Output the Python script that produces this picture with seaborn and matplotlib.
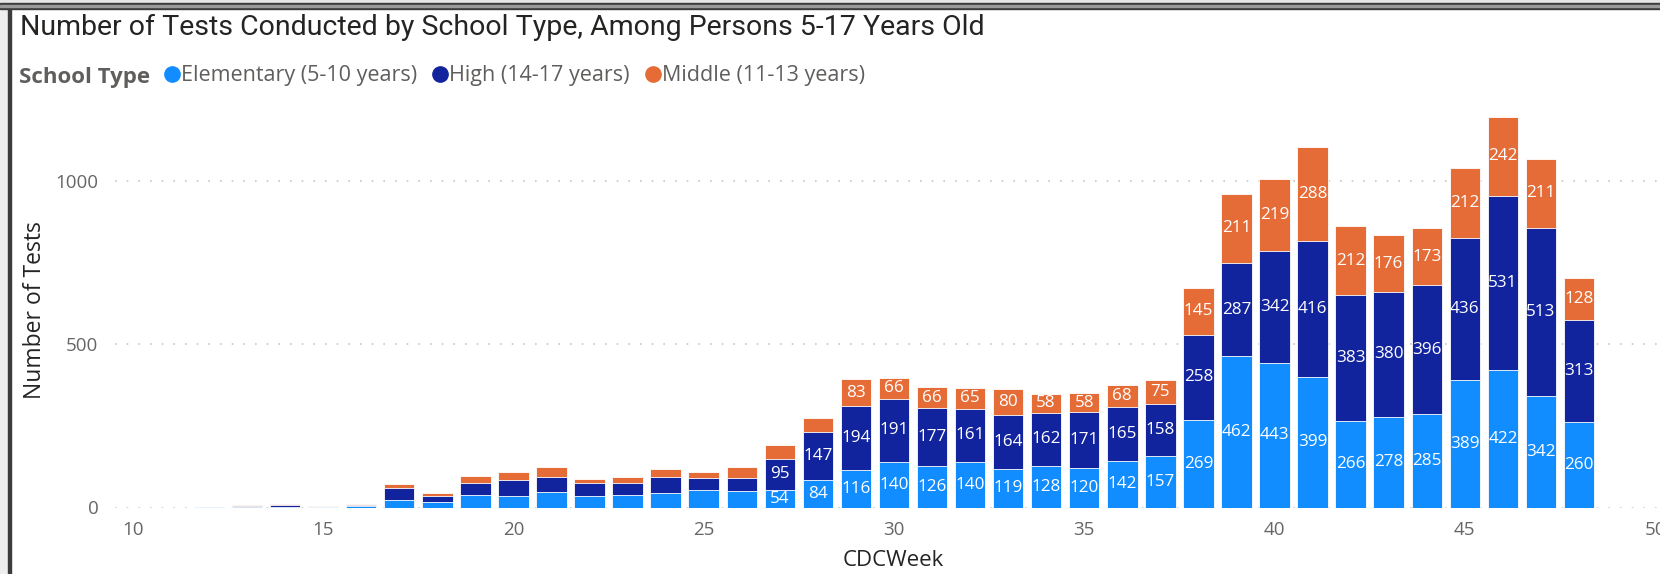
import matplotlib
matplotlib.use("Agg")
import matplotlib.pyplot as plt
from matplotlib.lines import Line2D
from matplotlib.patches import Rectangle
import numpy as np
import seaborn as sns

# CDC weeks and tests per school type
weeks = list(range(12, 49))
elementary = [1, 3, 3, 1, 4, 24, 18, 37, 34, 48, 36, 39, 44, 52, 50, 54, 84,
              116, 140, 126, 140, 119, 128, 120, 142, 157, 269, 462, 443, 399,
              266, 278, 285, 389, 422, 342, 260]
high = [1, 2, 6, 0, 5, 35, 17, 39, 49, 46, 40, 37, 48, 37, 39, 95, 147,
        194, 191, 177, 161, 164, 162, 171, 165, 158, 258, 287, 342, 416,
        383, 380, 396, 436, 531, 513, 313]
middle = [1, 3, 3, 3, 2, 14, 10, 19, 27, 31, 10, 17, 25, 20, 35, 43, 42,
          83, 66, 66, 65, 80, 58, 58, 68, 75, 145, 211, 219, 288,
          212, 176, 173, 212, 242, 211, 128]

series_names = ["Elementary (5-10 years)", "High (14-17 years)", "Middle (11-13 years)"]
series_colors = ["#118DFF", "#12239E", "#E66C37"]
yticks = [0, 500, 1000]
xticks = [10, 15, 20, 25, 30, 35, 40, 45, 50]

elem = np.array(elementary)
hi = np.array(high)
mid = np.array(middle)

W, H = 1660, 574
fig = plt.figure(figsize=(W / 100, H / 100), dpi=100)
fig.patch.set_facecolor("white")
plt.rcParams["font.family"] = ["Open Sans", "DejaVu Sans"]

ax = fig.add_axes([115 / W, (H - 507.5) / H, (W - 115) / W, 1250 * 0.327 / H])

# stacked bars: draw cumulative totals back to front
tops = [elem, elem + hi, elem + hi + mid]
for i in [2, 1, 0]:
    sns.barplot(x=weeks, y=tops[i], native_scale=True, width=0.8,
                color=series_colors[i], saturation=1, errorbar=None,
                edgecolor="white", linewidth=0.6, ax=ax)

# data labels centred in segments
lows = [np.zeros_like(elem), elem, elem + hi]
vals = [elem, hi, mid]
for i in range(3):
    for w, lo, v in zip(weeks, lows[i], vals[i]):
        if v >= 54:
            ax.text(w, lo + v / 2, str(v), ha="center", va="center",
                    color="white", fontsize=12.3)

ax.set_xlim(9.53, 50.13)
ax.set_ylim(0, 1250)
ax.set_xticks(xticks)
ax.set_xticklabels([str(t) for t in xticks])
ax.set_yticks(yticks)
ax.set_yticklabels([str(t) for t in yticks])
ax.tick_params(length=0, labelsize=13.5, colors="#666666")
ax.tick_params(axis="x", pad=9.5)
ax.tick_params(axis="y", pad=12)
for s in ax.spines.values():
    s.set_visible(False)
for t in yticks:
    ax.axhline(t, color="#c8c6c4", linestyle=(0, (1, 6)), linewidth=1.2, zorder=0)
ax.set_xlabel("")
ax.set_ylabel("")
fig.text(893 / W, 1 - 561 / H, "CDCWeek", fontsize=16, color="#252423",
         ha="center", va="center")
fig.text(35 / W, 1 - 310 / H, "Number of Tests", fontsize=16.5, color="#252423",
         ha="center", va="center", rotation=90)

# title and legend
fig.text(20 / W, 1 - 35 / H, "Number of Tests Conducted by School Type, Among Persons 5-17 Years Old",
         fontsize=20.5, color="#252423", va="baseline", ha="left", family=["Roboto", "DejaVu Sans"])
fig.text(19 / W, 1 - 83.5 / H, "School Type", fontsize=16, fontweight="bold",
         color="#605e5c", va="baseline", ha="left")
handles = [Line2D([], [], marker="o", linestyle="", markersize=11, color=c) for c in series_colors]
fig.legend(handles, series_names, loc="center left", bbox_to_anchor=(164.5 / W, 1 - 76 / H),
           ncol=3, frameon=False, fontsize=15.5, labelcolor="#605e5c",
           handlelength=0.7, handletextpad=0.05, columnspacing=0.75, borderpad=0, borderaxespad=0)

# report frame
fig.add_artist(Rectangle((0, 0), 8 / W, 1, transform=fig.transFigure, color="#eeeeee", zorder=5))
fig.add_artist(Rectangle((0, 1 - 3 / H), 1, 3 / H, transform=fig.transFigure, color="#e6e6e6", zorder=5))
fig.add_artist(Rectangle((0, 1 - 9 / H), 1, 6 / H, transform=fig.transFigure, color="#3c3c3c", zorder=6))
fig.add_artist(Rectangle((0, 1 - 7 / H), 1, 2 / H, transform=fig.transFigure, color="#9a9a9a", zorder=7))
fig.add_artist(Rectangle((8 / W, 0), 2.5 / W, 1 - 9 / H, transform=fig.transFigure, color="#3c3c3c", zorder=6))

fig.savefig("out.png", dpi=100)
